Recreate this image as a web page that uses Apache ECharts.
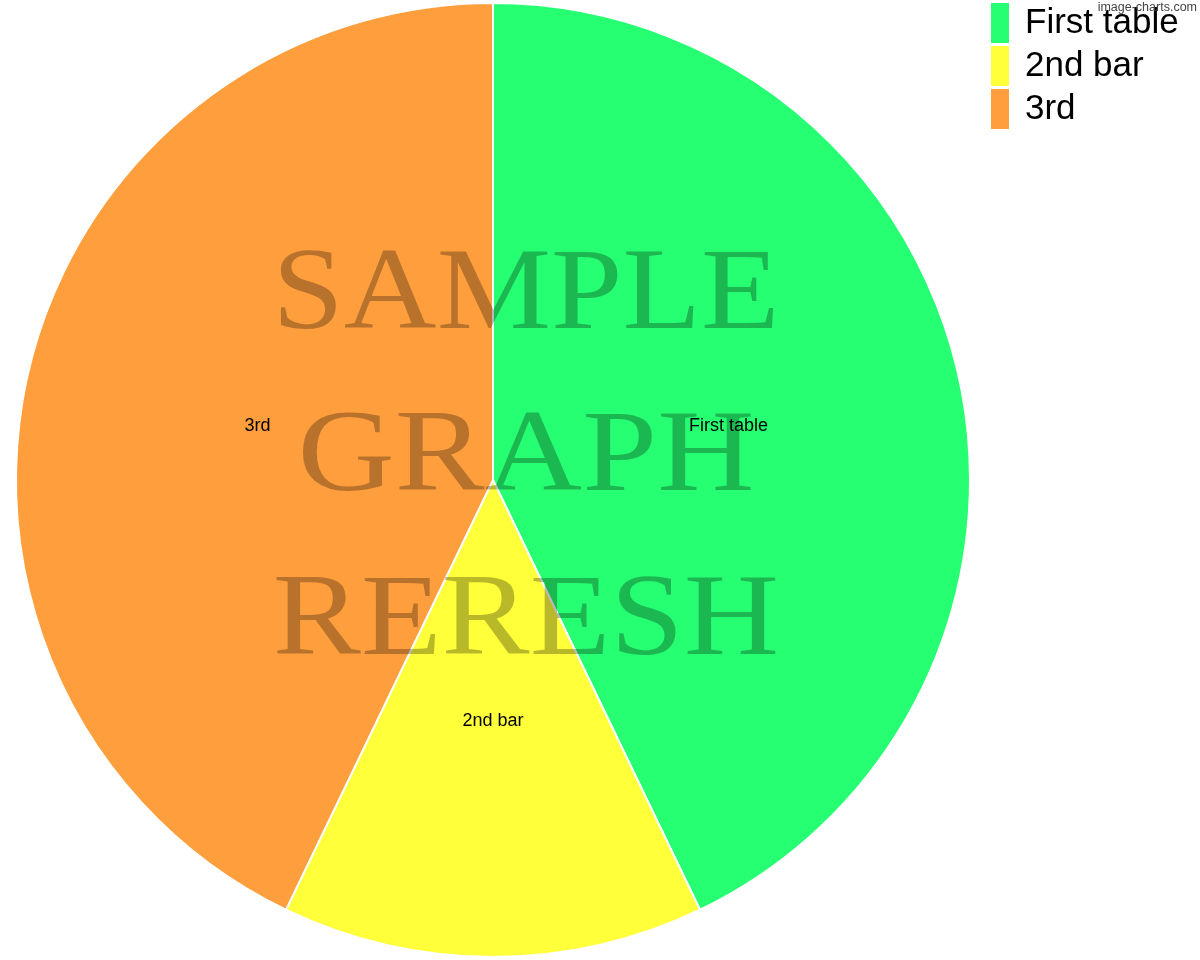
<!DOCTYPE html>
<html>
<head>
<meta charset="utf-8">
<script src="https://cdn.jsdelivr.net/npm/echarts@6/dist/echarts.min.js"></script>
<style>html,body{margin:0;padding:0;background:#fff}#c{width:1200px;height:960px}</style>
</head>
<body>
<div id="c"></div>
<script>
const categories = ['First table', '2nd bar', '3rd'];
const values = [3, 1, 3];
const colors = ['#26FF72', '#FFFF3A', '#FF9E3D'];
const watermarkLines = ['SAMPLE', 'GRAPH', 'RERESH'];

const chart = echarts.init(document.getElementById('c'), null, {renderer: 'canvas'});
const wmY = [297, 459, 623];
const wmScale = [0.925, 0.97, 0.95];
const graphics = watermarkLines.map((t, i) => ({
  type: 'text',
  x: 526, y: wmY[i],
  scaleX: wmScale[i],
  scaleY: 0.84,
  z: 100,
  silent: true,
  style: {
    text: t, x: 0, y: 0,
    font: '139px "Liberation Serif"',
    textAlign: 'center', textVerticalAlign: 'middle',
    fill: 'rgba(0,0,0,0.28)'
  }
}));
graphics.push({
  type: 'text', right: 3, top: 1, z: 101,
  style: {text: 'image-charts.com', font: '12.5px "Liberation Sans"', fill: '#444'}
});

chart.setOption({
  animation: false,
  color: colors,
  legend: {
    orient: 'vertical', left: 991, top: 3, padding: 0,
    itemWidth: 18, itemHeight: 40, itemGap: 3,
    icon: 'rect',
    itemStyle: {borderWidth: 0},
    textStyle: {fontSize: 35, fontFamily: 'Liberation Sans', color: '#000', padding: [2, 0, 0, 11]},
    data: categories
  },
  graphic: graphics,
  series: [{
    type: 'pie',
    center: [493, 480],
    radius: 477,
    startAngle: 90,
    clockwise: true,
    itemStyle: {borderColor: '#fff', borderWidth: 2},
    label: {position: 'inside', color: '#000', fontSize: 18, fontFamily: 'Liberation Sans', formatter: '{b}'},
    labelLine: {show: false},
    emphasis: {disabled: true},
    data: categories.map((n, i) => ({name: n, value: values[i]}))
  }]
});
</script>
</body>
</html>
